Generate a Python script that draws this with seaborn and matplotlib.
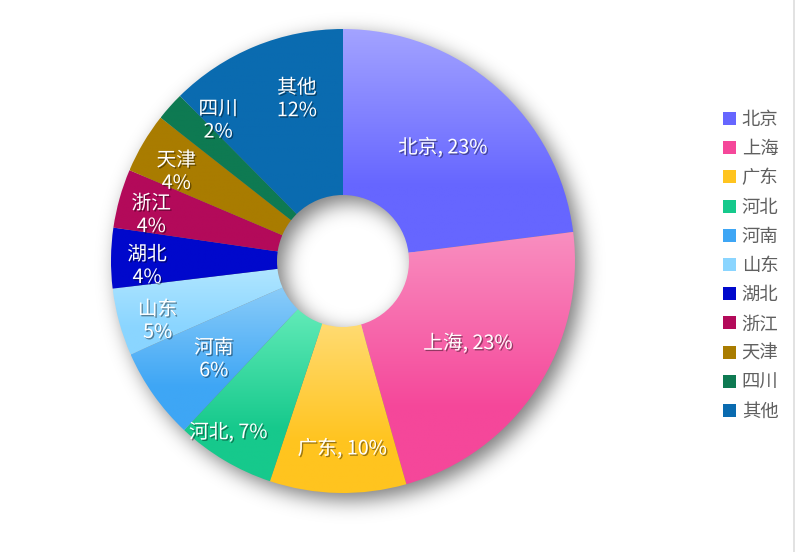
import numpy as np
import matplotlib
matplotlib.use("Agg")
import matplotlib.pyplot as plt
import matplotlib.patheffects as pe
from matplotlib.colors import to_rgb
from matplotlib.patches import Patch
from matplotlib.lines import Line2D
import seaborn as sns

# ---- data ----
regions = ["北京", "上海", "广东", "河北", "河南", "山东", "湖北", "浙江", "天津", "四川", "其他"]
shares = [23.0, 22.6, 9.5, 6.9, 6.4, 4.7, 4.2, 4.1, 4.2, 2.0, 12.4]
base_colors = ["#6666FF", "#F5479A", "#FFC41F", "#16C98C", "#3EA6F5", "#8AD5FF",
               "#0008CC", "#B30A5A", "#A97C00", "#0E7A52", "#0A6BB0"]
top_colors = ["#A3A3FF", "#F98FC0", "#FFDB72", "#62EBB8", "#8ACCF9", "#B0E6FF",
              "#0008CC", "#B30A5A", "#A97C00", "#0E7A52", "#0A6BB0"]
one_line = [True, True, True, True, False, False, False, False, False, False, False]
# label placement style: radius fraction and angular nudge (degrees, clockwise)
label_r = [0.65, 0.645, 0.81, 0.89, 0.70, 0.84, 0.845, 0.85, 0.815, 0.81, 0.725]
label_da = [0, 0, -1, 3, -2, -2.6, -2.2, -2.2, -2.5, 6.6, 6.4]

sns.set_theme(style="white")
plt.rcParams["font.family"] = ["Noto Sans CJK SC", "DejaVu Sans"]

W, H = 795, 552
fig = plt.figure(figsize=(W / 100, H / 100), dpi=100)
ax = fig.add_axes([0, 0, 1, 1])

cx, cy = 343, H - 261
R, r_in = 232, 66

# ---- drop shadow (decorative) ----
yy, xx = np.mgrid[0:H, 0:W]
sx, sy = 7, -7
d = np.hypot(xx + 0.5 - (cx + sx), yy + 0.5 - (cy + sy))
mask = ((d <= R) & (d >= r_in)).astype(float)
sig = 10.0
k = np.arange(-34, 35)
ker = np.exp(-k ** 2 / (2 * sig ** 2))
ker /= ker.sum()
blur = np.apply_along_axis(lambda v: np.convolve(v, ker, mode="same"), 1, mask)
blur = np.apply_along_axis(lambda v: np.convolve(v, ker, mode="same"), 0, blur)
shadow = np.zeros((H, W, 4))
shadow[..., 3] = blur * 0.52
ax.imshow(shadow, extent=(0, W, 0, H), origin="lower", zorder=1, interpolation="bilinear")

# ---- donut ----
wedges, _ = ax.pie(shares, colors=base_colors, startangle=90, counterclock=False,
                   center=(cx, cy), radius=R, frame=True,
                   wedgeprops=dict(width=R - r_in, linewidth=0))

for w, tc, bc in zip(wedges, top_colors, base_colors):
    w.set_zorder(2)
    ext = w.get_path().get_extents()
    n = 200
    t = np.linspace(0, 1, n)  # 0 = top of slice
    f = np.clip(t / 0.7, 0, 1)[:, None]
    c0, c1 = np.array(to_rgb(tc)), np.array(to_rgb(bc))
    grad = c0 * (1 - f) + c1 * f
    img = grad[:, None, :].repeat(2, axis=1)
    im = ax.imshow(img, extent=(ext.x0, ext.x1, ext.y0, ext.y1), origin="upper",
                   zorder=3, aspect="auto", interpolation="bilinear")
    im.set_clip_path(w)
    w.set_alpha(0.0)

ax.set_xlim(0, W)
ax.set_ylim(0, H)
ax.set_aspect("equal")
ax.axis("off")

# ---- labels ----
total = sum(shares)
cum = 0.0
shadow_fx = [pe.withSimplePatchShadow(offset=(1, -1), shadow_rgbFace="black", alpha=0.4)]
for name, v, ol, lr, da in zip(regions, shares, one_line, label_r, label_da):
    mid = (cum + v / 2) / total
    cum += v
    theta = np.deg2rad(mid * 360 + da)  # clockwise from top
    x = cx + lr * R * np.sin(theta)
    y = cy + lr * R * np.cos(theta)
    pct = f"{round(v / total * 100):.0f}%"
    txt = f"{name}, {pct}" if ol else f"{name}\n{pct}"
    ax.text(x, y, txt, ha="center", va="center", color="white", fontsize=14.2,
            linespacing=1.12, zorder=5, path_effects=shadow_fx)

# ---- legend ----
handles = [Patch(facecolor=c, edgecolor="none") for c in base_colors]
leg = ax.legend(handles, regions, loc="upper left", bbox_to_anchor=(723 / W, 1 - 111 / H),
                frameon=False, fontsize=13.2, handlelength=0.72, handleheight=0.72,
                handletextpad=0.3, labelspacing=0.61, borderaxespad=0, borderpad=0)
for t in leg.get_texts():
    t.set_color("#606060")

# container border on the right edge
fig.add_artist(Line2D([793.5 / W, 793.5 / W], [0, 1], transform=fig.transFigure,
                      color="#DDDDDD", linewidth=1.2))

fig.savefig("out.png", dpi=100)
